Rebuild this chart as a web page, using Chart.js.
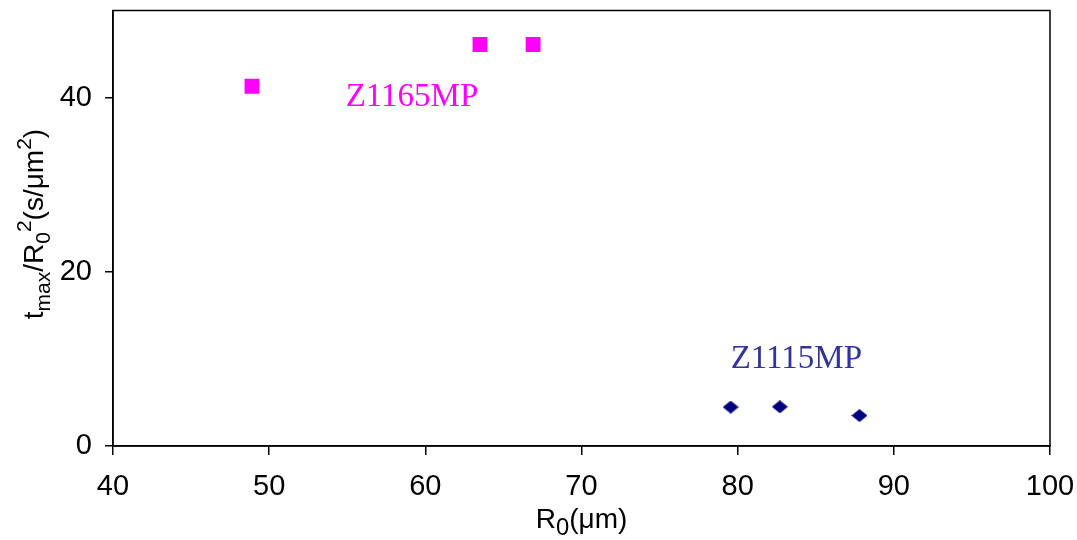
<!DOCTYPE html>
<html>
<head>
<meta charset="utf-8">
<script src="https://cdn.jsdelivr.net/npm/chart.js@4.4.1/dist/chart.umd.min.js"></script>
<style>
  html, body { margin: 0; padding: 0; background: #fff; }
  #wrap { width: 1077px; height: 540px; }
</style>
</head>
<body>
<div id="wrap"><canvas id="chart" width="1077" height="540"></canvas></div>
<script>
// values
const z1165X = [48.9, 63.5, 66.9];
const z1165Y = [41.3, 46.1, 46.1];
const z1115X = [79.55, 82.7, 87.8];
const z1115Y = [4.47, 4.5, 3.5];

const xTicks = [40, 50, 60, 70, 80, 90, 100];
const yTicks = [0, 20, 40];

const seriesLabels = ['Z1165MP', 'Z1115MP'];
const labelPos = [[54.9, 39.0], [79.55, 9.0]];
const pink = '#FF00FF';
const navy = '#000080';
const navyText = '#333399';

// diamond marker, a bit wider than tall
function diamond(w, h, color) {
  const c = document.createElement('canvas');
  c.width = w; c.height = h;
  const g = c.getContext('2d');
  g.fillStyle = color;
  g.beginPath();
  g.moveTo(w / 2, 0);
  g.lineTo(w, h / 2);
  g.lineTo(w / 2, h);
  g.lineTo(0, h / 2);
  g.closePath();
  g.fill();
  return c;
}

function toPoints(xs, ys) {
  return xs.map((x, i) => ({ x, y: ys[i] }));
}

// draws text made of normal / sub / sup pieces, centred on 0,0 baseline
function richText(ctx, parts, size, family, small) {
  const widths = parts.map(p => {
    const s = p.f === 'n' ? size : size * small;
    ctx.font = s + 'px ' + family;
    return ctx.measureText(p.t).width;
  });
  const total = widths.reduce((a, b) => a + b, 0);
  let x = -total / 2;
  parts.forEach((p, i) => {
    const s = p.f === 'n' ? size : size * small;
    ctx.font = s + 'px ' + family;
    let dy = 0;
    if (p.f === 'sub') dy = size * 0.26;
    if (p.f === 'sup') dy = -size * 0.42;
    ctx.fillText(p.t, x, dy);
    x += widths[i];
  });
}

const xTitle = [{ t: 'R', f: 'n' }, { t: '0', f: 'sub' }, { t: '(μm)', f: 'n' }];
const yTitle = [
  { t: 't', f: 'n' }, { t: 'max', f: 'sub' }, { t: '/R', f: 'n' }, { t: '0', f: 'sub' },
  { t: '2', f: 'sup' }, { t: '(s/μm', f: 'n' }, { t: '2', f: 'sup' }, { t: ')', f: 'n' }
];

const extras = {
  id: 'extras',
  afterDraw(chart) {
    const ctx = chart.ctx;
    const a = chart.chartArea;
    const xs = chart.scales.x, ys = chart.scales.y;
    ctx.save();
    // plot box
    ctx.strokeStyle = '#000';
    ctx.lineWidth = 1.5;
    ctx.strokeRect(a.left, a.top, a.right - a.left, a.bottom - a.top);

    // series labels
    ctx.font = '33px "Liberation Serif"';
    ctx.textAlign = 'left';
    ctx.textBaseline = 'alphabetic';
    ctx.fillStyle = pink;
    ctx.fillText(seriesLabels[0], xs.getPixelForValue(labelPos[0][0]), ys.getPixelForValue(labelPos[0][1]));
    ctx.fillStyle = navyText;
    ctx.fillText(seriesLabels[1], xs.getPixelForValue(labelPos[1][0]), ys.getPixelForValue(labelPos[1][1]));

    // axis titles
    ctx.fillStyle = '#000';
    ctx.save();
    ctx.translate((a.left + a.right) / 2, 528);
    richText(ctx, xTitle, 28, '"Liberation Sans"', 0.85);
    ctx.restore();

    ctx.save();
    ctx.translate(43, 224);
    ctx.rotate(-Math.PI / 2);
    richText(ctx, yTitle, 28, '"Liberation Sans"', 0.75);
    ctx.restore();
    ctx.restore();
  }
};

const tickFont = { family: '"Liberation Sans"', size: 29 };

new Chart(document.getElementById('chart'), {
  type: 'scatter',
  data: {
    datasets: [
      {
        label: seriesLabels[0],
        data: toPoints(z1165X, z1165Y),
        pointStyle: 'rect',
        pointRadius: 10.5,
        pointHoverRadius: 10.5,
        backgroundColor: pink,
        borderColor: pink,
        borderWidth: 0
      },
      {
        label: seriesLabels[1],
        data: toPoints(z1115X, z1115Y),
        pointStyle: diamond(16, 13, navy),
        backgroundColor: navy,
        borderColor: navy
      }
    ]
  },
  options: {
    responsive: false,
    animation: false,
    events: [],
    layout: { padding: { top: 6, right: 27, left: 0, bottom: 0 } },
    plugins: {
      legend: { display: false },
      tooltip: { enabled: false }
    },
    scales: {
      x: {
        type: 'linear',
        min: 40,
        max: 100,
        afterBuildTicks: s => { s.ticks = xTicks.map(v => ({ value: v })); },
        afterFit: s => { s.height = 94; s.paddingLeft = 0; s.paddingRight = 0; },
        ticks: { font: tickFont, color: '#000', padding: 15, maxRotation: 0 },
        grid: { drawOnChartArea: false, drawTicks: true, tickLength: 9, color: '#000', lineWidth: 1.5 },
        border: { display: true, color: '#000', width: 1.5 }
      },
      y: {
        type: 'linear',
        min: 0,
        max: 50,
        afterBuildTicks: s => { s.ticks = yTicks.map(v => ({ value: v })); },
        afterFit: s => { s.width = 113; s.paddingTop = 0; s.paddingBottom = 0; },
        ticks: { font: tickFont, color: '#000', padding: 13 },
        grid: { drawOnChartArea: false, drawTicks: true, tickLength: 8, color: '#000', lineWidth: 1.5 },
        border: { display: true, color: '#000', width: 1.5 }
      }
    }
  },
  plugins: [extras]
});
</script>
</body>
</html>
